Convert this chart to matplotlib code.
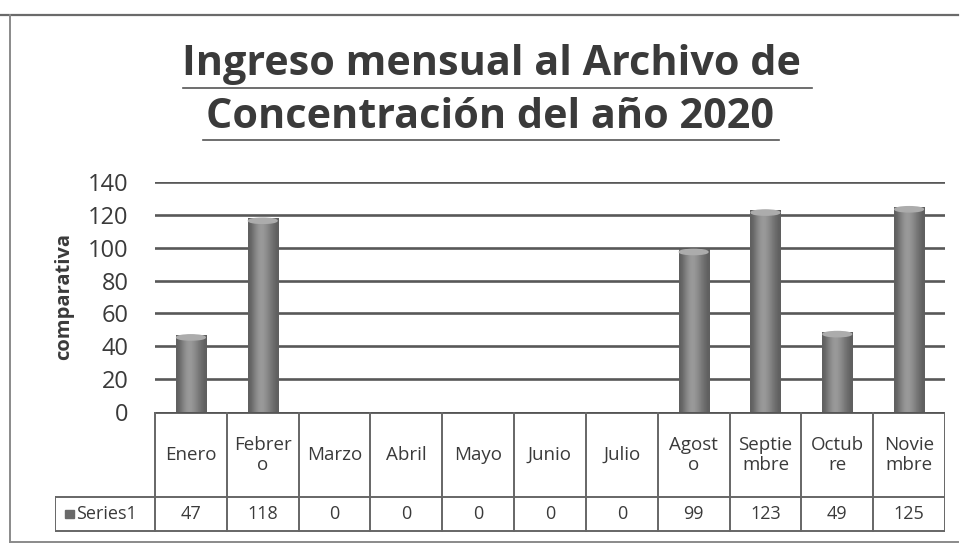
import numpy as np
import matplotlib
matplotlib.use('Agg')
import matplotlib.pyplot as plt
from matplotlib.patches import Rectangle, Ellipse

# data
months = ['Enero', 'Febrer\no', 'Marzo', 'Abril', 'Mayo', 'Junio', 'Julio',
          'Agost\no', 'Septie\nmbre', 'Octub\nre', 'Novie\nmbre']
values = [47, 118, 0, 0, 0, 0, 0, 99, 123, 49, 125]
series_name = 'Series1'
yticks = [0, 20, 40, 60, 80, 100, 120, 140]
title_lines = ['Ingreso mensual al Archivo de', 'Concentración del año 2020']

plt.rcParams['font.family'] = ['Open Sans', 'DejaVu Sans']
txt = '#3a3a3a'
grid_c = '#585858'

W, H = 962, 544
fig = plt.figure(figsize=(W / 100, H / 100), dpi=100)

def fx(px):
    return px / W

def fy(py):
    return 1 - py / H

# outer frame of the chart
fig.add_artist(plt.Line2D([fx(0), fx(958)], [fy(15), fy(15)], color='#6a6a6a', lw=1.6))
fig.add_artist(plt.Line2D([fx(10), fx(10)], [fy(15), fy(542)], color='#8a8a8a', lw=1.4))
fig.add_artist(plt.Line2D([fx(10), fx(958)], [fy(542), fy(542)], color='#8a8a8a', lw=1.4))

# title with underline
fig.text(fx(491), fy(75), title_lines[0], ha='center', va='baseline',
         fontsize=29.8, fontweight='bold', color=txt)
fig.add_artist(plt.Line2D([fx(183), fx(812)], [fy(88), fy(88)], color='#555555', lw=1.2))
fig.text(fx(490), fy(128), title_lines[1], ha='center', va='baseline',
         fontsize=29.8, fontweight='bold', color=txt)
fig.add_artist(plt.Line2D([fx(203), fx(779)], [fy(140), fy(140)], color='#555555', lw=1.2))

# plot area
ax = fig.add_axes([fx(155), fy(412), fx(945) - fx(155), fy(182) - fy(412)])
n = len(months)
x = np.arange(n)
ax.set_xlim(-0.5, n - 0.5)
ax.set_ylim(0, 140)
ax.set_yticks(yticks)
ax.set_yticklabels([str(t) for t in yticks], fontsize=17, color=txt)
ax.tick_params(axis='y', length=0, pad=19)
ax.set_xticks([])
for s in ax.spines.values():
    s.set_visible(False)
for t in yticks[1:]:
    ax.axhline(t, color=grid_c, lw=1.9, zorder=1)
ax.set_ylabel('comparativa', fontsize=14.5, fontweight='bold', color=txt, labelpad=10)

bw = 0.42
bars = ax.bar(x, values, width=bw, color='#6f6f6f', zorder=2)
grad = np.array([[0.0, 0.35, 0.7, 0.85, 0.7, 0.45, 0.2, 0.0]])
for b, v in zip(bars, values):
    if v <= 0:
        continue
    im = ax.imshow(grad, cmap='gray', vmin=-1.3, vmax=2.2, aspect='auto',
                   extent=[b.get_x(), b.get_x() + bw, 0, v], zorder=3,
                   interpolation='bicubic')
    im.set_clip_path(b)
    ax.add_patch(Ellipse((b.get_x() + bw / 2, v - 1.6), bw * 0.95, 3.2,
                         color='#acacac', zorder=4))
ax.set_xlim(-0.5, n - 0.5)
ax.set_ylim(0, 140)

# data table under the chart
cw = (945 - 155) / n
left = -0.5 - 100 / cw
tb = fig.add_axes([fx(55), fy(532), fx(945) - fx(55), fy(412) - fy(532)])
tb.set_xlim(left, n - 0.5)
tb.set_ylim(120, 0)
tb.axis('off')
lc = '#666666'
tb.plot([-0.5, n - 0.5], [0, 0], color='#555555', lw=2)
tb.plot([left, n - 0.5], [85, 85], color=lc, lw=1.4)
tb.plot([left, n - 0.5], [119, 119], color=lc, lw=1.4)
tb.plot([left, left], [85, 119], color=lc, lw=1.4)
for i in range(n + 1):
    tb.plot([i - 0.5, i - 0.5], [0, 119], color=lc, lw=1.4)
for i, (m, v) in enumerate(zip(months, values)):
    tb.text(i, 43, m, ha='center', va='center', fontsize=13.5, color=txt,
            linespacing=1.1)
    tb.text(i, 102, str(v), ha='center', va='center', fontsize=13, color=txt)
tb.add_patch(Rectangle((left + 0.14, 98), 0.13, 8, color='#6a6a6a'))
tb.text(left + 0.3, 102, series_name, ha='left', va='center', fontsize=13, color=txt)

plt.savefig('out.png', dpi=100)
